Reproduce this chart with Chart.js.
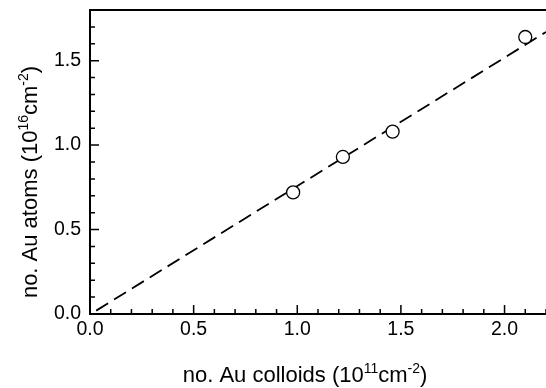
<!DOCTYPE html>
<html>
<head>
<meta charset="utf-8">
<script src="https://cdn.jsdelivr.net/npm/chart.js@4"></script>
<style>
  html, body { margin: 0; padding: 0; background: #fff; }
  #wrap { width: 546px; height: 388px; }
</style>
</head>
<body>
<div id="wrap"><canvas id="auChart" width="546" height="388"></canvas></div>
<script>
// measured points: Au colloids (1e11 cm^-2) vs Au atoms (1e16 cm^-2)
const colloids = [0.98, 1.22, 1.46, 2.10];
const atoms = [0.72, 0.93, 1.08, 1.64];

// dashed fit line end points
const fitX = [0.03, 2.2];
const fitY = [0.02, 1.67];

const xMin = 0, xMax = 2.2;
const yMin = 0, yMax = 1.8;

const font = '"Liberation Sans", Arial, Helvetica, sans-serif';

// inward major/minor ticks, top border and axis titles with superscripts
const framePlugin = {
  id: 'frame',
  afterDraw(chart) {
    const c = chart.ctx;
    const area = chart.chartArea;
    const xs = chart.scales.x;
    const ys = chart.scales.y;
    c.save();
    c.strokeStyle = '#000';
    c.lineWidth = 1.5;
    c.beginPath();
    for (let i = 0; i <= 22; i++) {
      const px = xs.getPixelForValue(i / 10);
      const len = i % 5 === 0 ? 9 : 5;
      c.moveTo(px, area.bottom);
      c.lineTo(px, area.bottom - len);
    }
    for (let i = 0; i <= 18; i++) {
      const py = ys.getPixelForValue(i / 10);
      const len = i % 5 === 0 ? 9 : 5;
      c.moveTo(area.left, py);
      c.lineTo(area.left + len, py);
    }
    c.stroke();
    c.lineWidth = 2;
    c.beginPath();
    c.moveTo(area.left, area.top);
    c.lineTo(area.right, area.top);
    c.stroke();

    c.fillStyle = '#000';
    c.textBaseline = 'alphabetic';
    drawSupTitle(c, ['no. Au colloids (10', '11', 'cm', '-2', ')'], 305, 382, 0);
    drawSupTitle(c, ['no. Au atoms (10', '16', 'cm', '-2', ')'], 37, 182, -Math.PI / 2);
    c.restore();
  }
};

function drawSupTitle(c, parts, cx, cy, rot) {
  const big = '22px ' + font;
  const small = '14px ' + font;
  let total = 0;
  parts.forEach((p, i) => {
    c.font = i % 2 ? small : big;
    total += c.measureText(p).width;
  });
  c.save();
  c.translate(cx, cy);
  c.rotate(rot);
  let x = -total / 2;
  parts.forEach((p, i) => {
    c.font = i % 2 ? small : big;
    c.fillText(p, x, i % 2 ? -9 : 0);
    x += c.measureText(p).width;
  });
  c.restore();
}

const ctx = document.getElementById('auChart').getContext('2d');

new Chart(ctx, {
  type: 'scatter',
  data: {
    datasets: [
      {
        label: 'data',
        data: colloids.map((x, i) => ({ x: x, y: atoms[i] })),
        pointRadius: 6.5,
        pointHoverRadius: 6.5,
        pointBorderWidth: 1.3,
        pointBackgroundColor: '#fff',
        pointBorderColor: '#000',
        showLine: false,
      },
      {
        label: 'fit',
        type: 'line',
        data: fitX.map((x, i) => ({ x: x, y: fitY[i] })),
        borderColor: '#000',
        borderWidth: 1.8,
        borderDash: [14, 7],
        pointRadius: 0,
        fill: false,
        clip: false,
      },
    ],
  },
  options: {
    responsive: false,
    animation: false,
    layout: { autoPadding: false, padding: { top: 10, right: 0, left: 0, bottom: 0 } },
    plugins: {
      legend: { display: false },
      tooltip: { enabled: false },
    },
    scales: {
      x: {
        type: 'linear',
        min: xMin,
        max: xMax,
        afterFit(scale) {
          scale.height = 74;
          scale.paddingLeft = 0;
          scale.paddingRight = 0;
        },
        grid: { display: false, drawTicks: false },
        border: { display: true, color: '#000', width: 2 },
        ticks: {
          stepSize: 0.5,
          includeBounds: false,
          maxRotation: 0,
          padding: 4,
          color: '#000',
          font: { family: font, size: 19.5 },
          callback: (v) => v.toFixed(1),
        },
      },
      y: {
        type: 'linear',
        min: yMin,
        max: yMax,
        afterFit(scale) {
          scale.width = 90;
          scale.paddingTop = 0;
          scale.paddingBottom = 0;
        },
        grid: { display: false, drawTicks: false },
        border: { display: true, color: '#000', width: 2 },
        ticks: {
          stepSize: 0.5,
          includeBounds: false,
          padding: 9,
          color: '#000',
          font: { family: font, size: 19.5 },
          callback: (v) => v.toFixed(1),
        },
      },
    },
  },
  plugins: [framePlugin],
});
</script>
</body>
</html>
